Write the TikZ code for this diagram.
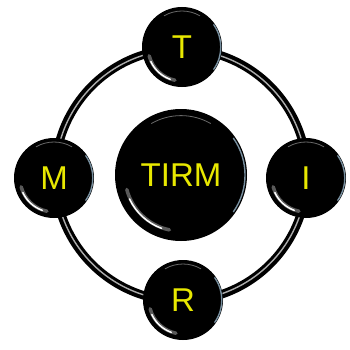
\documentclass[tikz,border=0pt]{standalone}
\usepackage{fontspec}
\setmainfont{Liberation Sans}
\definecolor{lbl}{RGB}{232,232,0}
\definecolor{rimblue}{RGB}{150,180,200}
\begin{document}
\begin{tikzpicture}[x=1pt,y=1pt,
  ball/.style={circle,fill=black,inner sep=0pt,text=lbl,
    font=\fontsize{33}{33}\selectfont},
  small/.style={ball,minimum size=80pt},
  big/.style={ball,minimum size=132pt},
  ring/.style={line width=8.5pt,black},
  ringhi/.style={line width=1.4pt,gray!65},
  glosswide/.style={white,line width=3.5pt,line cap=round,opacity=0.35},
  gloss/.style={white,line width=1.5pt,line cap=round},
  rim/.style={rimblue,line width=1.4pt,line cap=round}]
\useasboundingbox (0,0) rectangle (350,349);
\node[big] (C) at (181,174) {TIRM};
\draw[ring] (C.center) circle[radius=126];
\draw[ringhi] (C.center) circle[radius=125.5];
\node[small] (T) at (182,302) {T};
\node[small] (R) at (183,49) {R};
\node[small] (M) at (54,171) {M};
\node[small] (I) at (306,171) {I};
\foreach \n/\r in {T/40,R/40,M/40,I/40,C/66}{
  \draw[glosswide] ([shift={(195:0.85*\r)}]\n.center) arc[start angle=195,end angle=258,radius=0.85*\r];
  \draw[gloss] ([shift={(205:0.86*\r)}]\n.center) arc[start angle=205,end angle=250,radius=0.86*\r];
  \draw[rim,opacity=0.8] ([shift={(-35:0.97*\r)}]\n.center) arc[start angle=-35,end angle=35,radius=0.97*\r];
  \draw[gray!60,line width=0.8pt,opacity=0.6] ([shift={(60:0.9*\r)}]\n.center) arc[start angle=60,end angle=120,radius=0.9*\r];
}
\end{tikzpicture}
\end{document}
